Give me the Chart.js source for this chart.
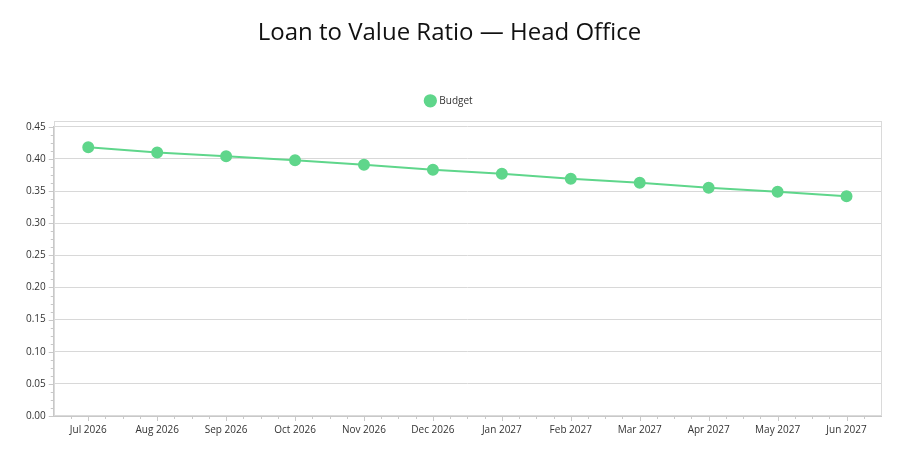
<!DOCTYPE html>
<html>
<head>
<meta charset="utf-8">
<script src="https://cdn.jsdelivr.net/npm/chart.js@4/dist/chart.umd.min.js"></script>
<style>
  html, body { margin: 0; padding: 0; background: #fff; }
  #wrap { width: 903px; height: 462px; }
</style>
</head>
<body>
<div id="wrap"><canvas id="ltvChart"></canvas></div>
<script>
// data
const months = ['Jul 2026', 'Aug 2026', 'Sep 2026', 'Oct 2026', 'Nov 2026', 'Dec 2026',
                'Jan 2027', 'Feb 2027', 'Mar 2027', 'Apr 2027', 'May 2027', 'Jun 2027'];
const budget = [0.418, 0.410, 0.404, 0.398, 0.391, 0.383, 0.377, 0.369, 0.363, 0.355, 0.349, 0.342];

const green = '#5fd68b';

// small tick marks between major ticks, like the original
const minorTicks = {
  id: 'minorTicks',
  afterDraw(chart) {
    const c = chart.ctx, x = chart.scales.x, y = chart.scales.y;
    const area = chart.chartArea;
    c.save();
    c.strokeStyle = '#c8c8c8';
    c.lineWidth = 1;
    // y axis: 4 steps per 0.05
    for (let i = 0; i <= 36; i++) {
      const py = Math.round(y.getPixelForValue(i * 0.0125)) + 0.5;
      const major = i % 4 === 0;
      c.beginPath();
      c.moveTo(area.left - (major ? 5 : 3), py);
      c.lineTo(area.left, py);
      c.stroke();
    }
    // x axis
    const step = (x.getPixelForValue(1) - x.getPixelForValue(0)) / 4;
    for (let i = 0; i < months.length; i++) {
      const cx = x.getPixelForValue(i);
      for (let k = -2; k < 2; k++) {
        const px = Math.round(cx + k * step) + 0.5;
        if (px < area.left + 2 || px > area.right - 2) continue;
        c.beginPath();
        c.moveTo(px, area.bottom);
        c.lineTo(px, area.bottom + (k === 0 ? 5 : 3));
        c.stroke();
      }
    }
    c.restore();
  }
};

// extra space under the legend
const legendGap = {
  id: 'legendGap',
  beforeInit(chart) {
    const fit = chart.legend.fit;
    chart.legend.fit = function () {
      fit.bind(chart.legend)();
      this.height += 11;
    };
  }
};

// light frame round the plot, a bit above the top gridline
const frame = {
  id: 'frame',
  afterDraw(chart) {
    const a = chart.chartArea, c = chart.ctx;
    c.save();
    c.strokeStyle = '#dadada';
    c.strokeRect(Math.round(a.left) + 0.5, Math.round(a.top) - 5.5, Math.round(a.right - a.left), Math.round(a.bottom - a.top) + 5);
    c.restore();
  }
};

new Chart(document.getElementById('ltvChart'), {
  type: 'line',
  data: {
    labels: months,
    datasets: [{
      label: 'Budget',
      data: budget,
      borderColor: green,
      backgroundColor: green,
      borderWidth: 2,
      pointRadius: 5,
      pointHoverRadius: 6,
      tension: 0
    }]
  },
  options: {
    responsive: true,
    maintainAspectRatio: false,
    animation: false,
    layout: { padding: { left: 18, right: 22, top: 0, bottom: 18 } },
    plugins: {
      title: {
        display: true,
        text: 'Loan to Value Ratio \u2014 Head Office',
        color: '#111',
        font: { family: 'Open Sans', size: 24, weight: 'normal' },
        padding: { top: 19, bottom: 38 }
      },
      legend: {
        position: 'top',
        labels: {
          usePointStyle: true,
          pointStyle: 'circle',
          boxWidth: 8,
          boxHeight: 8,
          color: '#333',
          font: { family: 'Open Sans', size: 10 },
          padding: 10
        }
      },
      tooltip: { enabled: false }
    },
    scales: {
      x: {
        offset: true,
        grid: { display: false, drawTicks: false },
        border: { color: '#c8c8c8' },
        ticks: { color: '#333', font: { family: 'Open Sans', size: 10 }, padding: 8, maxRotation: 0 }
      },
      y: {
        min: 0,
        max: 0.45,
        grid: { color: '#d8d8d8', drawTicks: false },
        border: { color: '#c8c8c8' },
        ticks: {
          stepSize: 0.05,
          color: '#333',
          font: { family: 'Open Sans', size: 10 },
          padding: 8,
          callback: v => v.toFixed(2)
        }
      }
    }
  },
  plugins: [legendGap, minorTicks, frame]
});
</script>
</body>
</html>
